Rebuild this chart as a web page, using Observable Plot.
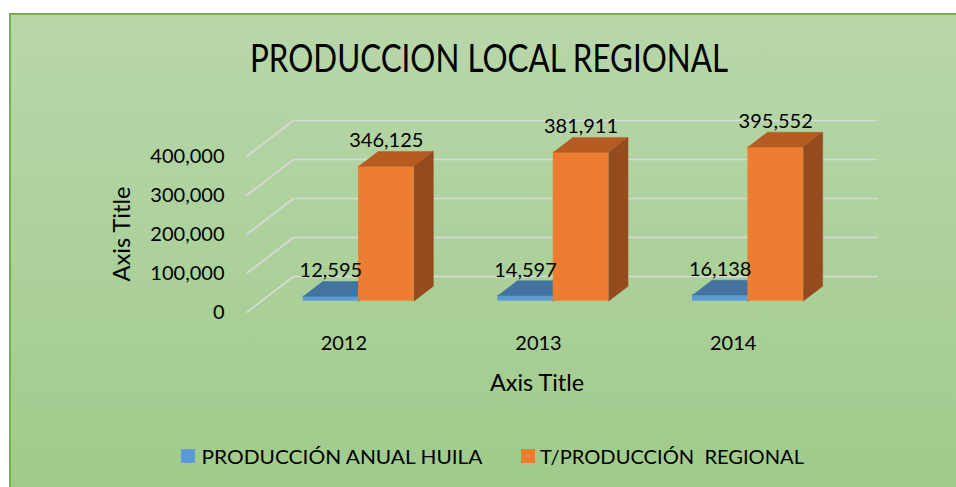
<!DOCTYPE html>
<html>
<head>
<meta charset="utf-8">
<script src="https://cdn.jsdelivr.net/npm/d3@7"></script>
<script src="https://cdn.jsdelivr.net/npm/@observablehq/plot@0.6"></script>
<style>
  html, body { margin: 0; padding: 0; background: #fff; }
  #wrap { position: relative; width: 956px; height: 487px; overflow: hidden; background: #fff; font-family: Lato, sans-serif; color: #000; }
  #panel { position: absolute; left: 9px; top: 13px; right: -4px; bottom: -4px;
    background: linear-gradient(#b8d7ab, #a0cb8b);
    border-top: 2px solid #76b150; border-left: 2px solid #76b150; }
  #chart { position: absolute; left: 0; top: 0; }
  .lbl { position: absolute; white-space: pre; line-height: 1; display: inline-block; }
  .sw { position: absolute; width: 14px; height: 14px; }
</style>
</head>
<body>
<div id="wrap">
  <div id="panel"></div>
  <div id="chart"></div>
</div>
<script>
// ---- data ----
const years = ["2012", "2013", "2014"];
const huila = [12595, 14597, 16138];
const regional = [346125, 381911, 395552];
const yTicks = [0, 100000, 200000, 300000, 400000];
const seriesNames = ["PRODUCCIÓN ANUAL HUILA", "T/PRODUCCIÓN  REGIONAL"];
const titleText = "PRODUCCION LOCAL REGIONAL";
const axisTitleX = "Axis Title";
const axisTitleY = "Axis Title";

// ---- styling / 3-D geometry (not data) ----
const COLORS = [
  {front: "#5b9bd5", top: "#44739f", side: "#3a6591"},
  {front: "#ed7d31", top: "#b55c22", side: "#964b1e"}
];
const DEPTH_X = 0.2414;   // full floor depth in category units
const DEPTH_Y = 92300;    // full floor depth in value units
const F_FRONT = 0.314;    // bar front plane as fraction of depth
const F_DEPTH = 0.41;     // bar depth as fraction of depth
const BAR_W = 0.285;      // bar width in category units

const fmt = d3.format(",");

const bars = years.flatMap((yr, i) => [huila[i], regional[i]].map((v, s) => {
  const c = i + 0.5;
  const ox = F_FRONT * DEPTH_X, oy = F_FRONT * DEPTH_Y;
  const x1 = c + ox - (s === 0 ? BAR_W : 0);
  const x2 = x1 + BAR_W;
  return {yr, i, s, v, x1, x2, y0: oy, y1: v + oy, bx: F_DEPTH * DEPTH_X, by: F_DEPTH * DEPTH_Y};
}));

function tops(s) {
  return bars.filter(b => b.s === s).flatMap(b => [
    {id: b.yr, x: b.x1, y: b.y1},
    {id: b.yr, x: b.x2, y: b.y1},
    {id: b.yr, x: b.x2 + b.bx, y: b.y1 + b.by},
    {id: b.yr, x: b.x1 + b.bx, y: b.y1 + b.by}
  ]);
}
function sides(s) {
  return bars.filter(b => b.s === s).flatMap(b => [
    {id: b.yr, x: b.x2, y: b.y0},
    {id: b.yr, x: b.x2, y: b.y1},
    {id: b.yr, x: b.x2 + b.bx, y: b.y1 + b.by},
    {id: b.yr, x: b.x2 + b.bx, y: b.y0 + b.by}
  ]);
}

const barMarks = [0, 1].flatMap(s => [
  Plot.rect(bars.filter(b => b.s === s), {x1: "x1", x2: "x2", y1: "y0", y2: "y1", fill: COLORS[s].front}),
  Plot.line(tops(s), {x: "x", y: "y", z: "id", fill: COLORS[s].top, stroke: COLORS[s].top, strokeWidth: 0.5}),
  Plot.line(sides(s), {x: "x", y: "y", z: "id", fill: COLORS[s].side, stroke: COLORS[s].side, strokeWidth: 0.5})
]);

const grid = "#d9d9d9";
const chart = Plot.plot({
  width: 956,
  height: 487,
  marginLeft: 246,
  marginRight: 126,
  marginTop: 156,
  marginBottom: 175,
  style: {background: "transparent", fontFamily: "Lato, sans-serif", color: "#000"},
  x: {domain: [0, 3]},
  y: {domain: [0, 400000]},
  marks: [
    Plot.link(yTicks, {x1: DEPTH_X, x2: 3 + DEPTH_X, y1: d => d + DEPTH_Y, y2: d => d + DEPTH_Y, stroke: grid, strokeWidth: 1.6}),
    Plot.link(yTicks, {x1: 0, x2: DEPTH_X, y1: d => d, y2: d => d + DEPTH_Y, stroke: grid, strokeWidth: 1.6}),
    ...barMarks,
    Plot.text(bars, {
      x: b => b.s === 0 ? b.x1 + BAR_W / 2 : b.x1 + BAR_W / 2,
      y: b => b.y1 + b.by,
      dy: -10.5,
      text: b => fmt(b.v),
      fontSize: 20,
      fill: "#000"
    }),
    Plot.axisY(yTicks, {tickSize: 0, tickPadding: 22, tickFormat: fmt, fontSize: 20, label: null, fill: "#000"}),
    Plot.axisX([0.5, 1.5, 2.5], {tickSize: 0, tickPadding: 23, tickFormat: d => years[Math.floor(d)], fontSize: 20, label: null, fill: "#000"})
  ]
});
document.getElementById("chart").appendChild(chart);

// ---- html texts ----
const wrap = document.getElementById("wrap");
function place(text, cx, cy, fontSize, targetW, rotate) {
  const el = document.createElement("div");
  el.className = "lbl";
  el.textContent = text;
  el.style.fontSize = fontSize + "px";
  el.style.left = cx + "px";
  el.style.top = cy + "px";
  wrap.appendChild(el);
  const w = el.getBoundingClientRect().width;
  const s = targetW / w;
  el.style.transform = "translate(-50%,-50%)" + (rotate ? " rotate(-90deg)" : "") + " scaleX(" + s + ")";
  return el;
}
place(titleText, 489, 57, 39, 478, false);
place(axisTitleX, 537, 382, 23, 94, false);
place(axisTitleY, 121, 234, 23, 95, true);

function swatch(x, y, color) {
  const d = document.createElement("div");
  d.className = "sw";
  d.style.left = x + "px"; d.style.top = y + "px"; d.style.background = color;
  wrap.appendChild(d);
}
swatch(181, 449, COLORS[0].front);
place(seriesNames[0], 201.7 + 281 / 2, 457, 19.5, 281, false);
swatch(521, 449, COLORS[1].front);
place(seriesNames[1], 540 + 264 / 2, 457, 19.5, 264, false);
</script>
</body>
</html>
